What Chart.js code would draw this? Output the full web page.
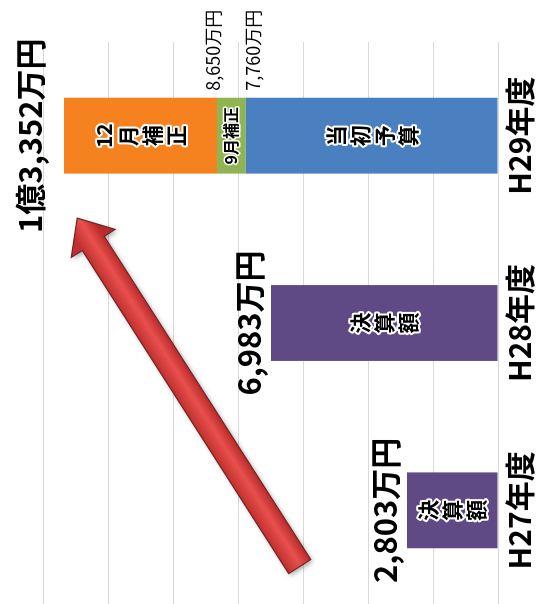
<!DOCTYPE html>
<html>
<head>
<meta charset="utf-8">
<script src="https://cdn.jsdelivr.net/npm/chart.js@4/dist/chart.umd.min.js"></script>
<style>
  html, body { margin: 0; padding: 0; background: #fff; }
  #wrap { position: relative; width: 538px; height: 604px; overflow: hidden; }
  /* the chart is laid out as normal columns, then turned on its side */
  #chart { position: absolute; left: 0; top: 0; transform-origin: 0 0; transform: translate(0, 604px) rotate(-90deg); }
</style>
</head>
<body>
<div id="wrap"><canvas id="chart" width="604" height="538"></canvas></div>
<script>
// ---- データ（万円） ----
const years = ["H27年度", "H28年度", "H29年度"];
const settledAmount = [2803, 6983, null];     // 決算額
const initialBudget = [null, null, 7760];     // 当初予算
const septemberSupp = [null, null, 890];      // 9月補正
const decemberSupp = [null, null, 4702];      // 12月補正
const yTicks = [0, 2000, 4000, 6000, 8000, 10000, 12000, 14000];

const FONT = "'Noto Sans CJK JP', 'Noto Sans', sans-serif";

function yen(v) {
  if (v >= 10000) return Math.floor(v / 10000) + "億" + (v % 10000).toLocaleString("ja-JP") + "万円";
  return v.toLocaleString("ja-JP") + "万円";
}

// 白フチ付きの黒文字
function outlined(ctx, text, x, y, w) {
  ctx.lineJoin = "round";
  ctx.lineWidth = w;
  ctx.strokeStyle = "#fff";
  ctx.strokeText(text, x, y);
  ctx.fillStyle = "#000";
  ctx.fillText(text, x, y);
}

// -------- ラベル --------
const labelPlugin = {
  id: "labels",
  afterDatasetsDraw(chart) {
    const ctx = chart.ctx;
    const area = chart.chartArea;
    const ys = chart.scales.y;
    ctx.save();

    // 棒の中の項目名
    chart.data.datasets.forEach((ds, di) => {
      chart.getDatasetMeta(di).data.forEach((bar, i) => {
        if (ds.data[i] == null) return;
        const top = Math.min(bar.y, bar.base), bot = Math.max(bar.y, bar.base);
        const cy = (top + bot) / 2;
        ctx.textAlign = "center";
        ctx.textBaseline = "middle";
        if (bot - top < 40) {
          ctx.font = "bold 16px " + FONT;
          outlined(ctx, ds.label, bar.x, cy, 3);
        } else {
          ctx.font = "bold 21px " + FONT;
          const parts = ds.label.match(/\d+|./g);
          const lh = 24;
          parts.forEach((p, k) => outlined(ctx, p, bar.x, cy + (k - (parts.length - 1) / 2) * lh, 4));
        }
      });
    });

    // 合計額（上の目盛線にかかる場合は枠の外へ）
    const lastMeta = chart.getDatasetMeta(chart.data.datasets.length - 1);
    years.forEach((_, i) => {
      const total = [settledAmount, initialBudget, septemberSupp, decemberSupp]
        .reduce((s, a) => s + (a[i] || 0), 0);
      const x = lastMeta.data[i].x;
      let y = ys.getPixelForValue(total) - 22;
      if (y - 16 < area.top) y = area.top - 13;
      ctx.font = "bold 31px " + FONT;
      ctx.textAlign = "center";
      ctx.textBaseline = "middle";
      ctx.fillStyle = "#000";
      ctx.fillText(yen(total), x, y);
    });

    // H29 の内訳の累計
    const i = 2;
    const bar = chart.getDatasetMeta(1).data[i];
    const xr = bar.x + bar.width / 2 + 7;
    const c1 = initialBudget[i], c2 = initialBudget[i] + septemberSupp[i];
    ctx.font = "18px " + FONT;
    ctx.textAlign = "left";
    ctx.fillStyle = "#000";
    ctx.textBaseline = "bottom";
    ctx.fillText(yen(c2), xr, ys.getPixelForValue(c2) + 5);
    ctx.textBaseline = "top";
    ctx.fillText(yen(c1), xr, ys.getPixelForValue(c1) - 2);
    ctx.restore();
  }
};

// -------- 増加の矢印 --------
const arrowPlugin = {
  id: "arrow",
  afterDatasetsDraw(chart) {
    const { ctx } = chart;
    const xs = chart.scales.x, ys = chart.scales.y;
    const at = (idx, val) => [xs.getPixelForValue(idx), ys.getPixelForValue(val)];
    const [x0, y0] = at(-0.3, 6100);
    const [x1, y1] = at(1.56, 12950);
    const dx = x1 - x0, dy = y1 - y0, len = Math.hypot(dx, dy);
    const ux = dx / len, uy = dy / len, nx = -uy, ny = ux;
    const sw = 13, hw = 26, hl = 30;
    const bx = x1 - ux * hl, by = y1 - uy * hl;
    const pts = [
      [x0 + nx * sw, y0 + ny * sw],
      [bx + nx * sw, by + ny * sw],
      [bx + nx * hw, by + ny * hw],
      [x1, y1],
      [bx - nx * hw, by - ny * hw],
      [bx - nx * sw, by - ny * sw],
      [x0 - nx * sw, y0 - ny * sw]
    ];
    ctx.save();
    ctx.beginPath();
    pts.forEach(([px, py], k) => k ? ctx.lineTo(px, py) : ctx.moveTo(px, py));
    ctx.closePath();
    const mx = (x0 + x1) / 2, my = (y0 + y1) / 2;
    const g = ctx.createLinearGradient(mx + nx * sw, my + ny * sw, mx - nx * sw, my - ny * sw);
    g.addColorStop(0, "#b92a2a");
    g.addColorStop(0.45, "#e8504d");
    g.addColorStop(1, "#c1302e");
    ctx.shadowColor = "rgba(0,0,0,0.35)";
    ctx.shadowBlur = 5;
    ctx.shadowOffsetX = -2;
    ctx.shadowOffsetY = 2;
    ctx.fillStyle = g;
    ctx.fill();
    ctx.shadowColor = "transparent";
    ctx.lineWidth = 1.2;
    ctx.strokeStyle = "#6e2525";
    ctx.stroke();
    ctx.restore();
  }
};

new Chart(document.getElementById("chart"), {
  type: "bar",
  data: {
    labels: years,
    datasets: [
      { label: "決算額", data: settledAmount, backgroundColor: "#5f4a86" },
      { label: "当初予算", data: initialBudget, backgroundColor: "#4a7fc0" },
      { label: "9月補正", data: septemberSupp, backgroundColor: "#8fb452" },
      { label: "12月補正", data: decemberSupp, backgroundColor: "#f5821f" }
    ]
  },
  options: {
    responsive: false,
    animation: false,
    devicePixelRatio: 1,
    layout: { padding: { left: 0, right: 42, top: 43, bottom: 0 } },
    datasets: { bar: { categoryPercentage: 1, barPercentage: 0.405 } },
    plugins: { legend: { display: false }, tooltip: { enabled: false } },
    scales: {
      x: {
        stacked: true,
        grid: { display: false, drawTicks: false },
        border: { display: false },
        ticks: { color: "#000", padding: 4, font: { family: FONT, size: 30, weight: "bold" } },
        afterFit(s) { s.height = 40; }
      },
      y: {
        stacked: true,
        min: yTicks[0],
        max: yTicks[yTicks.length - 1],
        afterBuildTicks(s) { s.ticks = yTicks.map(v => ({ value: v })); },
        ticks: { display: false },
        grid: { color: "#d9d9d9", drawTicks: false },
        border: { display: false },
        afterFit(s) { s.width = 0; }
      }
    }
  },
  plugins: [arrowPlugin, labelPlugin]
});
</script>
</body>
</html>
